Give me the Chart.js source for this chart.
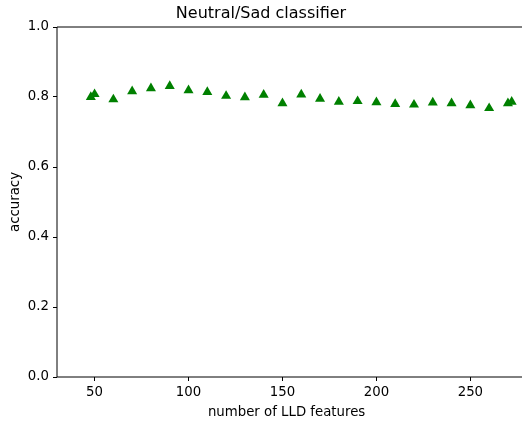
<!doctype html>
<html lang="en">
  <head>
    <meta charset="utf-8">
    <title>Neutral/Sad classifier</title>
    <style>
      * { margin: 0; padding: 0; }
      body { background: white; }
    </style>
  </head>
  <body>
    <canvas id="myChart" width="522" height="423"></canvas>
    <script src="https://cdn.jsdelivr.net/npm/chart.js/dist/chart.umd.min.js"></script>
    <script>
    // data
    const features = [48, 50, 60, 70, 80, 90, 100, 110, 120, 130, 140, 150, 160,
                      170, 180, 190, 200, 210, 220, 230, 240, 250, 260, 270, 272];
    const accuracy = [0.800, 0.808, 0.793, 0.816, 0.825, 0.831, 0.819, 0.814, 0.803, 0.799, 0.806, 0.782, 0.807,
                      0.795, 0.786, 0.788, 0.785, 0.780, 0.778, 0.784, 0.782, 0.776, 0.768, 0.782, 0.786];
    const xTicks = [50, 100, 150, 200, 250];
    const yTicks = [0, 0.2, 0.4, 0.6, 0.8, 1.0];

    Chart.defaults.font.family = 'DejaVu Sans';
    Chart.defaults.color = '#000';

    // top / left / bottom spines like matplotlib (right one is cut off by the image edge)
    const frame = {
      id: 'frame',
      afterDraw(chart) {
        const { ctx, chartArea: a } = chart;
        ctx.save();
        ctx.strokeStyle = '#000';
        ctx.lineWidth = 1;
        ctx.beginPath();
        ctx.moveTo(a.left, a.bottom);
        ctx.lineTo(a.left, a.top);
        ctx.lineTo(chart.width, a.top);
        ctx.moveTo(a.left, a.bottom);
        ctx.lineTo(chart.width, a.bottom);
        ctx.stroke();
        ctx.restore();
      }
    };

    const config = {
      type: 'scatter',
      data: {
        datasets: [{
          data: features.map((f, i) => ({ x: f, y: accuracy[i] })),
          pointStyle: 'triangle',
          pointRadius: 5.8,
          pointHoverRadius: 5.8,
          backgroundColor: '#008000',
          borderColor: '#008000',
          borderWidth: 0,
          clip: false
        }]
      },
      options: {
        responsive: false,
        animation: false,
        layout: { padding: 0 },
        plugins: {
          legend: { display: false },
          tooltip: { enabled: false },
          title: {
            display: true,
            text: 'Neutral/Sad classifier',
            font: { size: 16, weight: 'normal' },
            padding: { top: 4, bottom: 3.8 }
          }
        },
        scales: {
          x: {
            type: 'linear',
            min: 30,
            max: 274.4,
            afterBuildTicks: s => { s.ticks = xTicks.map(v => ({ value: v })); },
            afterFit: s => { s.height = 46; },
            grid: { drawOnChartArea: false, drawTicks: true, tickLength: 4, color: '#000' },
            border: { display: false },
            ticks: { font: { size: 13.3 }, padding: 4, maxRotation: 0 },
            title: { display: true, text: 'number of LLD features', font: { size: 13.3 }, padding: { top: 0, bottom: 2 } }
          },
          y: {
            type: 'linear',
            min: 0,
            max: 1,
            afterBuildTicks: s => { s.ticks = yTicks.map(v => ({ value: v })); },
            afterFit: s => { s.width = 57; },
            grid: { drawOnChartArea: false, drawTicks: true, tickLength: 4, color: '#000' },
            border: { display: false },
            ticks: { font: { size: 13.3 }, padding: 4, callback: v => v.toFixed(1) },
            title: { display: true, text: 'accuracy', font: { size: 13.3 }, padding: { top: 8, bottom: 0 } }
          }
        }
      },
      plugins: [frame]
    };

    const myChart = new Chart(document.getElementById('myChart'), config);
    </script>
  </body>
</html>
